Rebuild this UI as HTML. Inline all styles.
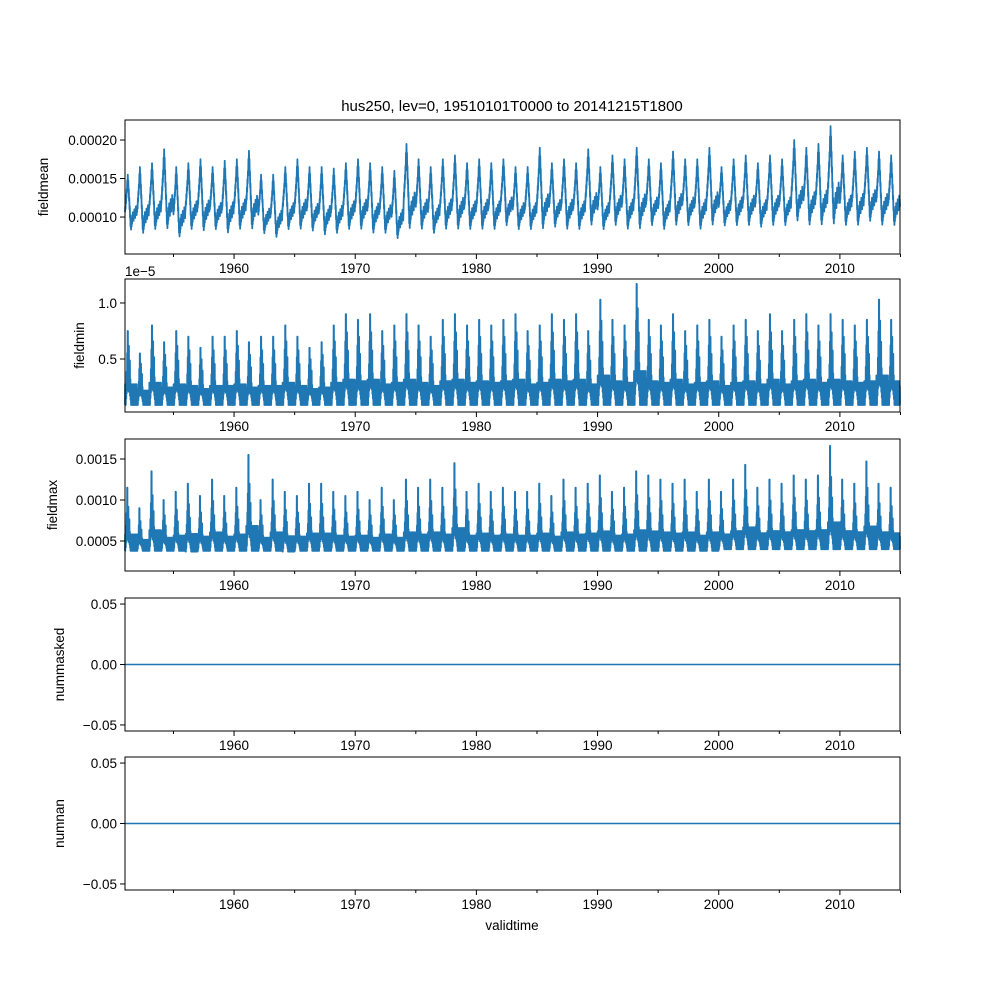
<!DOCTYPE html>
<html><head><meta charset="utf-8"><style>
body{margin:0;background:#fff}
svg{font-family:"Liberation Sans","DejaVu Sans",sans-serif}
</style></head><body>
<svg id="fig" width="1000" height="1000" viewBox="0 0 1000 1000" xmlns="http://www.w3.org/2000/svg">
<rect width="1000" height="1000" fill="#fff"/>
<text x="512" y="111" font-size="15" text-anchor="middle">hus250, lev=0, 19510101T0000 to 20141215T1800</text>
<text x="512" y="930" font-size="13.5" text-anchor="middle">validtime</text>
<text x="125" y="276" font-size="13.5">1e−5</text>
</svg>
<script>
const years = [];
for (let y = 1951; y <= 2014; y++) years.push(y);
const meanPeaks = [15.5,16.5,17,18.8,16.5,17,17.5,16.5,17.3,17.5,18.6,15.5,15.5,16.5,17.5,16.5,16.5,16.3,17,17.5,17,16.5,16,19.5,17.5,16.5,17.5,18,17,17.5,17,17.5,16.5,16.5,19,17,17.5,17,18.8,16.5,18,17.5,19,17.5,17,18.5,17.5,17.5,19,16.5,17.5,18,17,18,17.5,20,19,19.5,21.8,18,18.5,19,18.5,18];
const meanLows = [8,7.5,8,8,7,8,7.8,8,7.5,8,8,7.5,7,8,8,7.8,7.3,7.5,8,8,7.5,7.5,6.8,8,8,7.5,8,8,8,8,8,8.5,8,8,8,8.3,8,8,8.5,8,8.5,8,8,8.5,8,8.5,8.5,8,8.5,8.5,8.5,8.5,8.3,8.5,8.5,9,8.5,8.5,8.5,8.5,8.5,9,8.5,8.5];
const minPeaks = [0.75,0.55,0.8,0.65,0.75,0.7,0.6,0.7,0.7,0.75,0.65,0.7,0.7,0.8,0.7,0.6,0.65,0.8,0.9,0.85,0.9,0.75,0.8,0.9,0.8,0.7,0.85,0.9,0.8,0.85,0.8,0.85,0.9,0.75,0.8,0.9,0.85,0.9,0.75,1.03,0.85,0.8,1.17,0.85,0.8,0.9,0.75,0.8,0.85,0.7,0.8,0.85,0.75,0.9,0.75,0.85,0.9,0.8,0.9,0.85,0.8,0.85,1.03,0.85];
const minLows = [0.09,0.09,0.09,0.09,0.09,0.09,0.09,0.09,0.09,0.09,0.09,0.09,0.09,0.09,0.09,0.09,0.09,0.09,0.09,0.09,0.09,0.09,0.09,0.09,0.09,0.09,0.09,0.09,0.09,0.09,0.09,0.09,0.09,0.09,0.09,0.09,0.09,0.09,0.09,0.09,0.09,0.09,0.09,0.09,0.09,0.09,0.09,0.09,0.09,0.09,0.09,0.09,0.09,0.09,0.09,0.09,0.09,0.09,0.09,0.09,0.09,0.09,0.09,0.09];
const maxPeaks = [11.5,9,13.5,10,11,12,10.5,12.5,10.5,11.5,15.5,10,12.5,11,10.5,12,12,11,10.5,11,10,11.5,10,12.5,11.5,12.5,11.5,14.5,11,12,11,11.5,11,11,12,10.5,12.5,11.5,12,13,11,11.5,13.5,13,12.5,12,12.5,11,12.5,11,12.5,14.3,11.5,12.5,12,13,12.5,13,16.6,12.5,12,14.7,12,11.5];
const maxLows = [3.8,3.8,3.8,3.8,3.8,3.7,3.8,3.8,3.8,3.8,3.8,3.8,3.8,3.7,3.8,3.8,3.8,3.8,3.8,3.8,3.8,3.8,3.8,3.8,3.8,3.8,3.8,3.8,3.8,3.8,3.8,3.8,3.8,3.8,3.8,3.8,3.8,3.8,3.8,3.8,3.8,3.8,3.8,3.8,3.8,3.8,3.8,3.8,3.8,4,4,4,4,4,4,4,4,4,4,4,4,4,4,4];
const maskedValues = [0,0];
const nanValues = [0,0];
const xTicks = [1960,1970,1980,1990,2000,2010];
const meanTicks = ["0.00010","0.00015","0.00020"];
const minTicks = ["0.5","1.0"];
const maxTicks = ["0.0005","0.0010","0.0015"];
const zeroTicks = ["−0.05","0.00","0.05"];

const NS = "http://www.w3.org/2000/svg";
const svg = document.getElementById('fig');
const X0 = 125, X1 = 900, T0 = 1951.0, T1 = 2014.96;
const xs = t => X0 + (t - T0) / (T1 - T0) * (X1 - X0);
function mk(tag, attrs){const e=document.createElementNS(NS,tag);for(const k in attrs)e.setAttribute(k,attrs[k]);svg.appendChild(e);return e;}

// shape templates (fraction between annual low and peak)
const tMean = [0.35,0.45,0.4,0.55,0.5,0.65,0.6,0.75,0.7,0.9,0.8,1.0,0.85,0.9,0.7,0.75,0.55,0.6,0.4,0.45,0.25,0.3,0.1,0.2,0.05,0.18,0.1,0.25,0.15,0.3,0.2,0.35,0.25,0.3,0.2,0.35,0.25,0.4,0.3,0.35,0.25,0.4,0.3,0.45,0.35,0.4,0.3,0.4];
const envMin = [0,0,0.25,0.45,0.7,1.0,0.55,0.8,0.5,0.6,0.35,0.2,0,0,0,0,0,0,0,0,0,0,0,0];
const envMax = [0,0.15,0.4,0.6,1.0,0.5,0.7,0.4,0.5,0.3,0.15,0,0,0,0,0,0,0,0,0,0,0,0,0];
function buildTpl(env, band){
  const out=[];
  for(let i=0;i<env.length*4;i++){
    const e=env[Math.floor(i/4)];
    const hi=Math.max(e,band*(i%4===1?1:0.8));
    const lo=e*0.35;
    out.push(i%2?hi:lo);
  }
  return out;
}
const tMin = buildTpl(envMin,0.28);
const tMax = buildTpl(envMax,0.26);

const panels = [
 {name:'fieldmean',top:120,bot:254,vmin:5.2,vmax:22.6,peaks:meanPeaks,lows:meanLows,tpl:tMean,ticks:meanTicks,tv:[10,15,20],lab:'fieldmean',lx:48},
 {name:'fieldmin',top:279,bot:412,vmin:0.027,vmax:1.214,peaks:minPeaks,lows:minLows,tpl:tMin,ticks:minTicks,tv:[0.5,1.0],lab:'fieldmin',lx:84},
 {name:'fieldmax',top:439,bot:571,vmin:1.34,vmax:17.44,peaks:maxPeaks,lows:maxLows,tpl:tMax,ticks:maxTicks,tv:[5,10,15],lab:'fieldmax',lx:57},
 {name:'nummasked',top:598,bot:731,vmin:-0.055,vmax:0.055,flat:maskedValues,ticks:zeroTicks,tv:[-0.05,0,0.05],lab:'nummasked',lx:64},
 {name:'numnan',top:757,bot:890,vmin:-0.055,vmax:0.055,flat:nanValues,ticks:zeroTicks,tv:[-0.05,0,0.05],lab:'numnan',lx:64}
];

panels.forEach(p=>{
  const ys = v => p.bot - (v - p.vmin)/(p.vmax - p.vmin)*(p.bot - p.top);
  let d='';
  if(p.flat){
    d='M'+xs(T0)+','+ys(p.flat[0])+'L'+xs(T1)+','+ys(p.flat[1]);
  } else {
    const n=p.tpl.length;
    years.forEach((yr,i)=>{
      for(let k=0;k<n;k++){
        const t=yr+k/n;
        if(t>T1)break;
        const v=p.lows[i]+p.tpl[k]*(p.peaks[i]-p.lows[i]);
        d+=(d?'L':'M')+xs(t).toFixed(2)+','+ys(v).toFixed(2);
      }
    });
  }
  const line = mk('path',{d:d,fill:'none',stroke:'#1f77b4','stroke-width':p.flat?1.5:1.8,'stroke-linejoin':'round'});
  
  
  const fr = mk('rect',{x:X0,y:p.top,width:X1-X0,height:p.bot-p.top,fill:'none',stroke:'#000','stroke-width':1});
  
  
  xTicks.forEach(t=>{
    const x=xs(t);
    mk('line',{x1:x,x2:x,y1:p.bot,y2:p.bot+5,stroke:'#000'});
    const tx=mk('text',{x:x,y:p.bot+19,'font-size':13.5,'text-anchor':'middle'});
    tx.textContent=t;
    
    
  });
  for(let t=1955;t<=2015;t+=10){const x=xs(t);mk('line',{x1:x,x2:x,y1:p.bot,y2:p.bot+3,stroke:'#000'});}
  p.tv.forEach((v,i)=>{
    const y=ys(v);
    mk('line',{x1:X0-5,x2:X0,y1:y,y2:y,stroke:'#000'});
    const tx=mk('text',{x:X0-8,y:y+5,'font-size':13.5,'text-anchor':'end'});
    tx.textContent=p.ticks[i];
    
    
  });
  const cy=(p.top+p.bot)/2;
  const yl=mk('text',{x:p.lx,y:cy,'font-size':13.5,'text-anchor':'middle',transform:'rotate(-90 '+p.lx+' '+cy+')'});
  yl.textContent=p.lab;
  
  
});
</script>
</body></html>
